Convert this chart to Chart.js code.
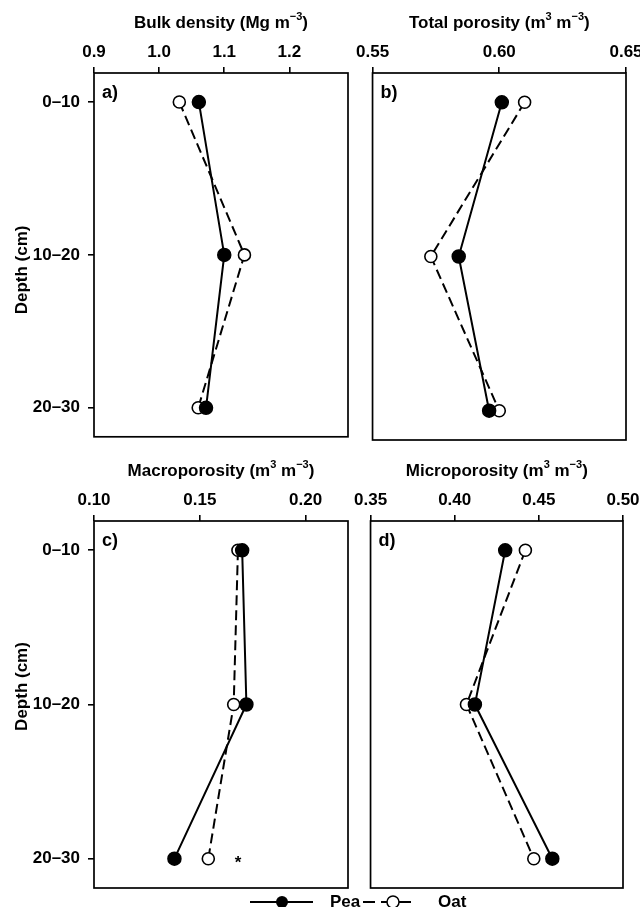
<!DOCTYPE html>
<html>
<head>
<meta charset="utf-8">
<script src="https://cdn.jsdelivr.net/npm/chart.js@4.4.1/dist/chart.umd.min.js"></script>
<style>
  html, body { margin: 0; padding: 0; background: #fff; width: 640px; height: 907px; overflow: hidden; }
  .panel { position: absolute; }
</style>
</head>
<body>
<div class="panel" style="left:0;top:0;width:362px;height:455px"><canvas id="chartA"></canvas></div>
<div class="panel" style="left:352px;top:0;width:308px;height:455px"><canvas id="chartB"></canvas></div>
<div class="panel" style="left:0;top:460px;width:480px;height:447px"><canvas id="chartC"></canvas></div>
<div class="panel" style="left:350px;top:460px;width:310px;height:447px"><canvas id="chartD"></canvas></div>
<script>
// Depth layers (top to bottom)
const depths = ['0–10', '10–20', '20–30'];

// a) bulk density, Mg m-3
const bulkPea = [1.061, 1.100, 1.072];
const bulkOat = [1.031, 1.131, 1.060];
const bulkTicks = [0.9, 1.0, 1.1, 1.2];

// b) total porosity, m3 m-3
const totalPea = [0.601, 0.584, 0.596];
const totalOat = [0.610, 0.573, 0.600];
const totalTicks = [0.55, 0.60, 0.65];

// c) macroporosity, m3 m-3
const macroPea = [0.170, 0.172, 0.138];
const macroOat = [0.168, 0.166, 0.154];
const macroTicks = [0.10, 0.15, 0.20];
const macroNote = { x: 0.168, depth: 2, text: '*' };

// d) microporosity, m3 m-3
const microPea = [0.430, 0.412, 0.458];
const microOat = [0.442, 0.407, 0.447];
const microTicks = [0.35, 0.40, 0.45, 0.50];

// axis titles: odd parts are superscripts
const titleA = ['Bulk density (Mg m', '−3', ')'];
const titleB = ['Total porosity (m', '3', ' m', '−3', ')'];
const titleC = ['Macroporosity (m', '3', ' m', '−3', ')'];
const titleD = ['Microporosity (m', '3', ' m', '−3', ')'];
const depthTitle = 'Depth (cm)';
const seriesNames = ['Pea', 'Oat'];

const FONT = 'Arial, "Liberation Sans", sans-serif';
Chart.defaults.font.family = FONT;
Chart.defaults.color = '#000';

function toPoints(values) {
  return values.map(function (v, i) { return { x: v, y: i }; });
}

function drawRich(ctx, parts, cx, cy, size) {
  var supSize = Math.round(size * 0.62);
  var width = 0;
  parts.forEach(function (p, i) {
    ctx.font = 'bold ' + (i % 2 ? supSize : size) + 'px ' + FONT;
    width += ctx.measureText(p).width;
  });
  var x = cx - width / 2;
  ctx.textAlign = 'left';
  ctx.textBaseline = 'middle';
  parts.forEach(function (p, i) {
    var sup = i % 2 === 1;
    ctx.font = 'bold ' + (sup ? supSize : size) + 'px ' + FONT;
    ctx.fillText(p, x, sup ? cy - size * 0.38 : cy);
    x += ctx.measureText(p).width;
  });
}

const panelDecor = {
  id: 'panelDecor',
  afterDraw: function (chart, args, opts) {
    var ctx = chart.ctx;
    var a = chart.chartArea;
    ctx.save();
    ctx.fillStyle = '#000';
    ctx.strokeStyle = '#000';
    ctx.lineWidth = 1.7;
    ctx.strokeRect(a.left, a.top, a.right - a.left, a.bottom - a.top);

    ctx.font = 'bold 18px ' + FONT;
    ctx.textAlign = 'left';
    ctx.textBaseline = 'middle';
    ctx.fillText(opts.letter, a.left + 8, a.top + 20);

    drawRich(ctx, opts.title, (a.left + a.right) / 2, a.top - 50, 17);

    if (opts.depthShift !== undefined) {
      ctx.save();
      ctx.translate(22, (a.top + a.bottom) / 2 + opts.depthShift);
      ctx.rotate(-Math.PI / 2);
      ctx.font = 'bold 17px ' + FONT;
      ctx.textAlign = 'center';
      ctx.textBaseline = 'middle';
      ctx.fillText(depthTitle, 0, 0);
      ctx.restore();
    }

    if (opts.note) {
      var xs = chart.scales.x, ys = chart.scales.y;
      ctx.font = 'bold 17px ' + FONT;
      ctx.textAlign = 'center';
      ctx.textBaseline = 'middle';
      ctx.fillText(opts.note.text, xs.getPixelForValue(opts.note.x), ys.getPixelForValue(opts.note.depth) + 5);
    }

    if (opts.legend) {
      var ly = a.bottom + 14;
      var lx = a.left;
      ctx.lineWidth = 2;
      ctx.beginPath();
      ctx.moveTo(lx + 156, ly);
      ctx.lineTo(lx + 219, ly);
      ctx.stroke();
      ctx.beginPath();
      ctx.arc(lx + 188, ly, 6, 0, Math.PI * 2);
      ctx.fill();
      ctx.font = 'bold 17px ' + FONT;
      ctx.textAlign = 'left';
      ctx.fillText(seriesNames[0], lx + 236, ly);

      ctx.setLineDash([12, 6]);
      ctx.beginPath();
      ctx.moveTo(lx + 269, ly);
      ctx.lineTo(lx + 323, ly);
      ctx.stroke();
      ctx.setLineDash([]);
      ctx.beginPath();
      ctx.arc(lx + 299, ly, 6, 0, Math.PI * 2);
      ctx.fillStyle = '#fff';
      ctx.fill();
      ctx.lineWidth = 1.5;
      ctx.stroke();
      ctx.fillStyle = '#000';
      ctx.fillText(seriesNames[1], lx + 344, ly);
    }
    ctx.restore();
  }
};

function makePanel(id, cfg) {
  var tickMarks = { display: true, drawOnChartArea: false, drawTicks: true, tickLength: 6, color: '#000', lineWidth: 1.6 };
  return new Chart(document.getElementById(id), {
    type: 'scatter',
    data: {
      datasets: [
        {
          label: seriesNames[0], data: toPoints(cfg.pea), showLine: true,
          borderColor: '#000', borderWidth: 2,
          pointRadius: 6.5, pointBackgroundColor: '#000', pointBorderColor: '#000', pointBorderWidth: 1.5,
        },
        {
          label: seriesNames[1], data: toPoints(cfg.oat), showLine: true,
          borderColor: '#000', borderWidth: 2, borderDash: [10, 5],
          pointRadius: 6, pointBackgroundColor: '#fff', pointBorderColor: '#000', pointBorderWidth: 1.6,
        },
      ],
    },
    options: {
      responsive: true,
      maintainAspectRatio: false,
      animation: false,
      layout: { padding: cfg.padding },
      plugins: {
        legend: { display: false },
        tooltip: { enabled: false },
        panelDecor: {
          letter: cfg.letter, title: cfg.title, depthShift: cfg.depthShift,
          note: cfg.note, legend: cfg.legend,
        },
      },
      scales: {
        x: {
          type: 'linear', position: 'top',
          min: cfg.range[0], max: cfg.range[1],
          afterFit: function (s) { s.height = cfg.axisHeight; },
          afterBuildTicks: function (s) { s.ticks = cfg.ticks.map(function (v) { return { value: v }; }); },
          ticks: {
            padding: 4, font: { size: 17, weight: 'bold' },
            callback: function (v) { return v.toFixed(cfg.decimals); },
          },
          grid: tickMarks,
          border: { display: false },
        },
        y: {
          type: 'linear', reverse: true, min: -0.19, max: 2.19,
          display: cfg.showDepth,
          afterFit: function (s) { s.width = cfg.showDepth ? 94 : 0; },
          afterBuildTicks: function (s) { s.ticks = depths.map(function (d, i) { return { value: i }; }); },
          ticks: {
            padding: 8, font: { size: 17, weight: 'bold' },
            callback: function (v) { return depths[v]; },
          },
          grid: tickMarks,
          border: { display: false },
        },
      },
    },
    plugins: [panelDecor],
  });
}

makePanel('chartA', {
  pea: bulkPea, oat: bulkOat, ticks: bulkTicks, range: [0.9, 1.29], decimals: 1,
  title: titleA, letter: 'a)', showDepth: true, depthShift: 15, axisHeight: 73,
  padding: { left: 0, top: 0, right: 14, bottom: 15 },
});
makePanel('chartB', {
  pea: totalPea, oat: totalOat, ticks: totalTicks, range: [0.55, 0.65], decimals: 2,
  title: titleB, letter: 'b)', showDepth: false, axisHeight: 73,
  padding: { left: 19, top: 0, right: 34, bottom: 15 },
});
makePanel('chartC', {
  pea: macroPea, oat: macroOat, ticks: macroTicks, range: [0.10, 0.22], decimals: 2,
  title: titleC, letter: 'c)', showDepth: true, depthShift: -18, axisHeight: 61,
  note: macroNote, legend: true,
  padding: { left: 0, top: 0, right: 132, bottom: 19 },
});
makePanel('chartD', {
  pea: microPea, oat: microOat, ticks: microTicks, range: [0.35, 0.50], decimals: 2,
  title: titleD, letter: 'd)', showDepth: false, axisHeight: 61,
  padding: { left: 18, top: 0, right: 37, bottom: 19 },
});
</script>
</body>
</html>
